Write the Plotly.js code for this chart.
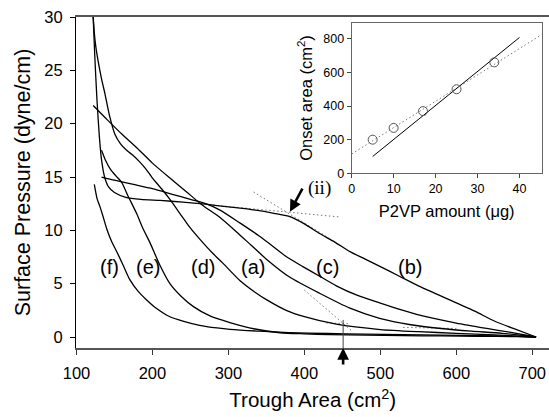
<!DOCTYPE html>
<html>
<head>
<meta charset="utf-8">
<script src="https://cdn.plot.ly/plotly-3.0.1.min.js"></script>
<style>html,body{margin:0;padding:0;background:#fff;}#chart{width:549px;height:417px;}</style>
</head>
<body>
<div id="chart"></div>
<script>
// ---- Main isotherms: trough area (cm^2) vs surface pressure (dyne/cm)
const fX = [123.5,127,131,135,140,146,153,161,170,181,192,205,223,240,262,285,302,340,380,430,480,530,580,630,680,705];
const fY = [14.3,13.0,12.2,11.3,10.1,9.0,8.0,6.8,5.4,4.3,3.5,2.7,1.9,1.5,1.1,0.85,0.72,0.55,0.42,0.33,0.27,0.22,0.17,0.12,0.06,0];
const eX = [133,138,145,152,159.5,168,179,188,197,210,223,238,254,275,302,335,368,400,433,480,530,580,630,680,705];
const eY = [17.5,16.6,15.7,15.1,14.5,13.2,11.6,10.1,8.8,6.7,5.0,3.8,2.85,2.0,1.35,0.75,0.4,0.3,0.22,0.17,0.13,0.1,0.07,0.04,0];
const dX = [122,123.5,125.5,128.7,133,137.5,143,150.6,158,166,175,183.5,192,200,212,223,236,249,262,280,293,315,335,350,376,400,442,500,550,600,650,705];
const dY = [30,28.5,27.2,25.8,24.2,22.8,20.9,19.0,18.1,17.5,17.0,16.4,15.7,14.9,13.9,12.9,11.6,10.3,9.2,7.8,6.9,5.3,4.2,3.5,2.5,1.9,1.2,0.7,0.5,0.35,0.2,0];
const aX = [122,140,160,180,200,223,245,265,289,310,330,350,381,420,460,499,540,580,620,660,705];
const aY = [21.7,20.4,19.0,17.7,16.3,14.9,13.6,12.4,11.2,9.9,8.6,7.3,5.6,4.1,2.7,1.75,1.15,0.8,0.55,0.35,0];
const cX = [133,150,175,200,225,250,270,289,315,340,355,375,398,420,442,470,499,530,560,600,640,670,705];
const cY = [15.0,14.7,14.3,13.9,13.4,12.9,12.5,11.9,10.7,9.5,8.7,7.6,6.6,5.7,4.8,3.9,3.2,2.5,1.9,1.3,0.8,0.45,0];
const bX = [122,124,127,130,133,137,142,150,165,185,210,240,270,300,330,360,380,400,420,440,460,480,500,525,550,575,600,625,650,675,705];
const bY = [30,26.5,22.2,18.9,16.6,15.0,14.1,13.55,13.1,12.9,12.8,12.65,12.45,12.2,11.95,11.6,11.3,10.6,9.7,8.9,8.0,7.3,6.6,5.7,4.8,4.0,3.2,2.4,1.5,0.8,0];

// curve labels
const labelText = ["(f)","(e)","(d)","(a)","(c)","(b)"];
const labelX = [144,194,266,333,431,539];
const labelY = [6.55,6.55,6.55,6.55,6.55,6.55];

// tangent construction lines
const tanFlatX = [275,447]; const tanFlatY = [12.4,11.25];
const tanSteepX = [333,433]; const tanSteepY = [13.6,9.25];
const tanLowX = [400,462]; const tanLowY = [4.4,0.6];
const baseLowX = [429,458]; const baseLowY = [1.32,1.25];
const tailDotX = [530,600]; const tailDotY = [0.9,0.8];
const onsetX = 451; const onsetTopY = 1.6;
const pointIIx = 381; const pointIIy = 11.75;

// ---- Inset: onset area vs P2VP amount
const p2vpAmount = [5,10,17,25,34];
const onsetArea = [200,270,370,500,660];
const fitSolidX = [5,40]; const fitSolidY = [100,808];
const fitDotX = [0,45.3]; const fitDotY = [115,825];

const F = "Arial, 'Liberation Sans', sans-serif";
const SERIF = "'Times New Roman', 'Liberation Serif', serif";

function curve(x,y){return {x:x,y:y,type:'scatter',mode:'lines',line:{color:'#000',width:1.3,shape:'spline',smoothing:0.6},xaxis:'x',yaxis:'y',hoverinfo:'skip'};}
function dotted(x,y,xa,ya){return {x:x,y:y,type:'scatter',mode:'lines',line:{color:'#777',width:1,dash:'1.5px,2.5px'},xaxis:xa||'x',yaxis:ya||'y',hoverinfo:'skip'};}

const traces = [
  dotted(tanFlatX,tanFlatY), dotted(tanSteepX,tanSteepY), dotted(tanLowX,tanLowY), dotted(baseLowX,baseLowY), dotted(tailDotX,tailDotY),
  curve(fX,fY), curve(eX,eY), curve(dX,dY), curve(aX,aY), curve(cX,cY), curve(bX,bY),
  {x:[onsetX,onsetX],y:[-1.03,onsetTopY],type:'scatter',mode:'lines',line:{color:'#444',width:1},xaxis:'x',yaxis:'y',hoverinfo:'skip'},
  dotted(fitDotX,fitDotY,'x2','y2'),
  {x:fitSolidX,y:fitSolidY,type:'scatter',mode:'lines',line:{color:'#000',width:1},xaxis:'x2',yaxis:'y2',hoverinfo:'skip'},
  {x:p2vpAmount,y:onsetArea,type:'scatter',mode:'markers',marker:{symbol:'circle-open',size:9,color:'#555',line:{width:1,color:'#555'}},xaxis:'x2',yaxis:'y2',hoverinfo:'skip'}
];

const annotations = labelText.map((t,i)=>({x:labelX[i],y:labelY[i],xref:'x',yref:'y',text:t,showarrow:false,font:{family:F,size:20,color:'#000'}}));
annotations.push({x:pointIIx,y:pointIIy,xref:'x',yref:'y',ax:398.5,ay:14.05,axref:'x',ayref:'y',text:'',showarrow:true,arrowhead:2,arrowsize:0.9,arrowwidth:2.6,arrowcolor:'#000'});
annotations.push({x:420,y:14.0,xref:'x',yref:'y',text:'(ii)',showarrow:false,font:{family:SERIF,size:19,color:'#000'}});
annotations.push({x:onsetX,y:-1.03,xref:'x',yref:'y',ax:0,ay:18,text:'',showarrow:true,arrowhead:2,arrowsize:0.9,arrowwidth:2.6,arrowcolor:'#000'});
annotations.push({x:453,y:-4.2,xref:'x',yref:'y',text:'(i)',showarrow:false,font:{family:SERIF,size:18,color:'#000'}});

const layout = {
  width:549,height:417,margin:{l:0,r:0,t:0,b:0},paper_bgcolor:'#fff',plot_bgcolor:'rgba(0,0,0,0)',showlegend:false,
  xaxis:{domain:[0.1393,1],range:[100,722],tickvals:[100,200,300,400,500,600,700],ticks:'outside',ticklen:5,tickcolor:'#333',
    showline:true,linecolor:'#555',linewidth:2,mirror:true,showgrid:false,zeroline:false,ticklabelstandoff:4,
    tickfont:{family:F,size:16.5,color:'#000'},
    title:{text:'Trough Area (cm<sup>2</sup>)',font:{family:F,size:20.5,color:'#000'},standoff:12}},
  yaxis:{domain:[0.16547,0.95923],range:[-1.03,30],tickvals:[0,5,10,15,20,25,30],ticks:'outside',ticklen:5,tickcolor:'#000',
    showline:true,linecolor:'#000',linewidth:1.5,showgrid:false,zeroline:false,ticklabelstandoff:4,
    tickfont:{family:F,size:16.5,color:'#000'},
    title:{text:'Surface Pressure (dyne/cm)',font:{family:F,size:21.5,color:'#000'},standoff:8}},
  xaxis2:{domain:[0.6406,0.9867],range:[0,45.3],anchor:'y2',tickvals:[0,10,20,30,40],ticks:'outside',ticklen:4,tickcolor:'#444',
    showline:true,linecolor:'#666',linewidth:1,mirror:true,showgrid:false,zeroline:false,
    tickfont:{family:F,size:12.5,color:'#000'},
    title:{text:'P2VP amount (μg)',font:{family:F,size:16.5,color:'#000'},standoff:10}},
  yaxis2:{domain:[0.5844,0.9456],range:[0,896],anchor:'x2',tickvals:[0,200,400,600,800],ticks:'outside',ticklen:4,tickcolor:'#444',
    showline:true,linecolor:'#666',linewidth:1,mirror:true,showgrid:false,zeroline:false,
    tickfont:{family:F,size:12.5,color:'#000'},
    title:{text:'Onset area (cm<sup>2</sup>)',font:{family:F,size:16.5,color:'#000'},standoff:6}},
  annotations:annotations
};
Plotly.newPlot('chart',traces,layout,{staticPlot:true,displayModeBar:false});
</script>
</body>
</html>
